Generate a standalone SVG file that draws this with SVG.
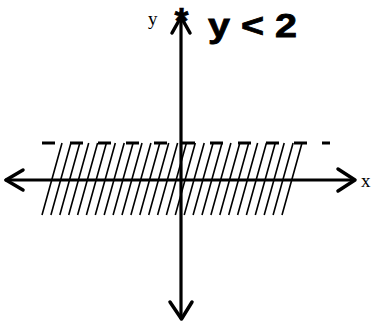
<svg xmlns="http://www.w3.org/2000/svg" width="373" height="325" viewBox="0 0 373 325">
<style>
.ax{stroke:#000;stroke-width:3.2;fill:none;stroke-linecap:round;stroke-linejoin:round}
.hd{stroke:#000;stroke-width:3.5;fill:none;stroke-linecap:round;stroke-linejoin:round}
.ht{stroke:#000;stroke-width:1.6}
.dash{stroke:#000;stroke-width:3;stroke-dasharray:13 15}
.lbl{font-family:"Liberation Serif",serif;font-size:19px;fill:#000}
</style>
<rect width="373" height="325" fill="#fff"/>
<g id="hatch">
<path class="ht" d="M42,215L62,143M50.9,215L70.9,143M59.8,215L79.8,143M68.7,215L88.7,143M77.6,215L97.6,143M86.4,215L106.4,143M95.3,215L115.3,143M104.2,215L124.2,143M113.1,215L133.1,143M122,215L142,143M130.9,215L150.9,143M139.8,215L159.8,143M148.7,215L168.7,143M157.6,215L177.6,143M166.4,215L186.4,143M175.3,215L195.3,143M184.2,215L204.2,143M193.1,215L213.1,143M202,215L222,143M210.9,215L230.9,143M219.8,215L239.8,143M228.7,215L248.7,143M237.6,215L257.6,143M246.4,215L266.4,143M255.3,215L275.3,143M264.2,215L284.2,143M273.1,215L293.1,143M282,215L302,143"/>
</g>
<g id="boundary">
<line class="dash" x1="42" y1="143" x2="330" y2="143"/>
</g>
<g id="connectors">
<line class="ax" x1="6" y1="180" x2="354" y2="180"/>
<path class="hd" d="M23,170L6,180L23,190"/>
<path class="hd" d="M338,169L355,180L338,191"/>
<line class="ax" x1="181" y1="12" x2="181" y2="318"/>
<path class="hd" d="M172,33L181,17L190,33"/>
<path class="hd" d="M170,302L181.5,319L192,302"/>
</g>
<g id="labels">
<text class="lbl" x="361" y="187">x</text>
<text class="lbl" x="148" y="25">y</text>
<text x="181.5" y="34" text-anchor="middle" font-family="Liberation Sans,sans-serif" font-weight="bold" font-size="36" stroke="#000" stroke-width="0.6">*</text>
<text x="208" y="37" font-family="Liberation Sans,sans-serif" font-weight="bold" font-size="34" stroke="#000" stroke-width="0.8" textLength="89" lengthAdjust="spacingAndGlyphs">y &lt; 2</text>
</g>
</svg>
